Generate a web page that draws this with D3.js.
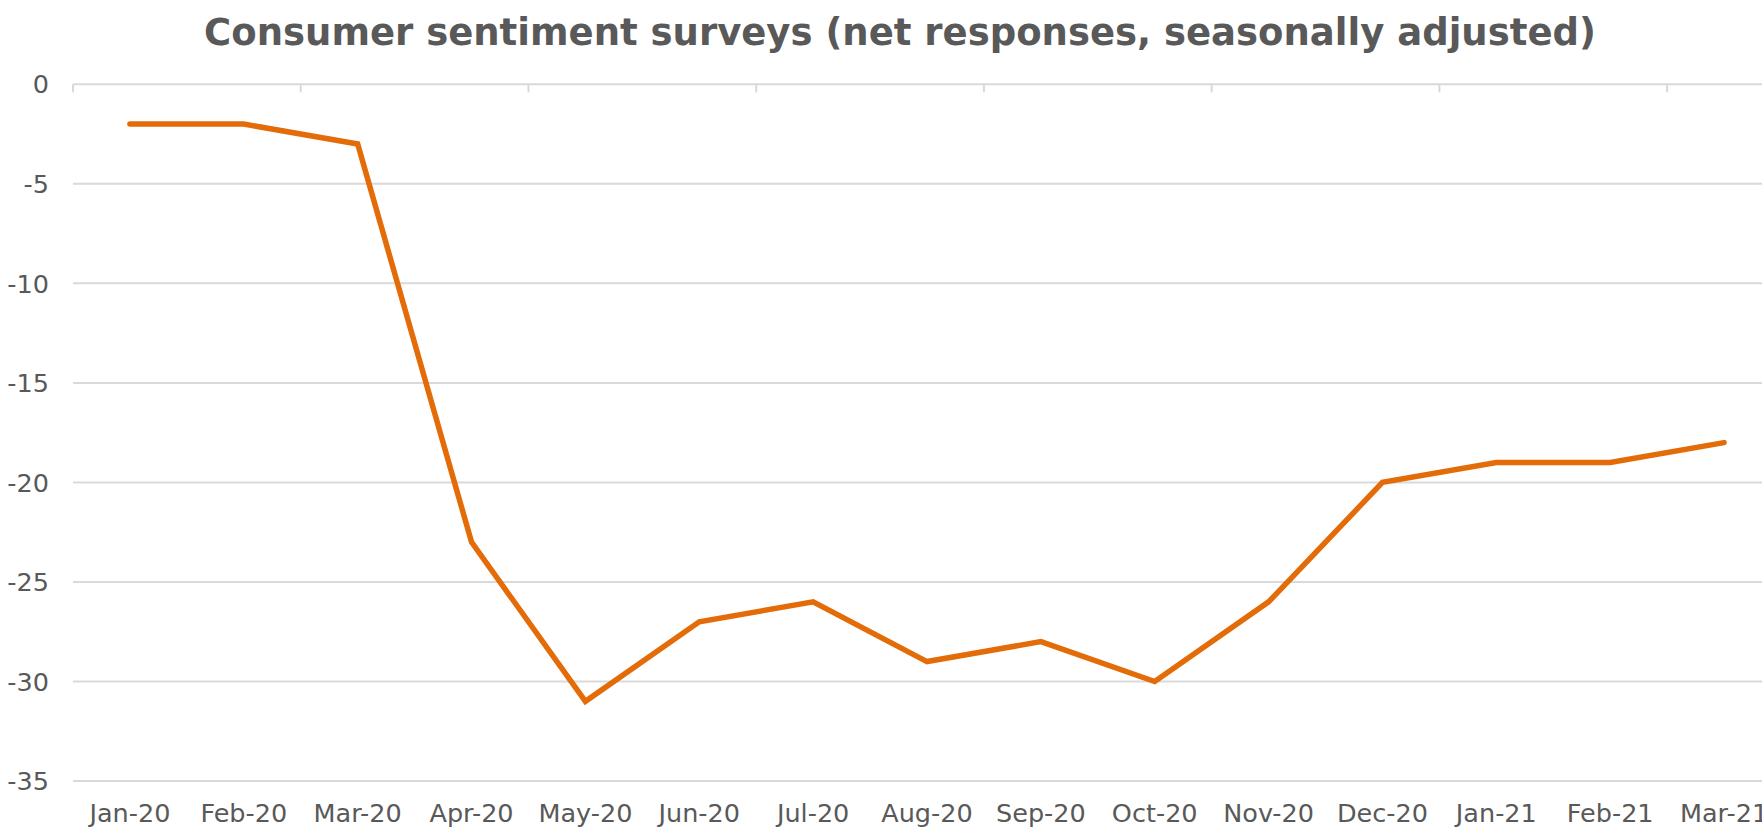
<!DOCTYPE html>
<html>
<head>
<meta charset="utf-8">
<script src="https://cdn.jsdelivr.net/npm/d3@7"></script>
<style>
  html, body { margin: 0; padding: 0; background: #fff; overflow: hidden; }
  svg { display: block; }
</style>
</head>
<body>
<svg id="chart" width="1762" height="827"></svg>
<script>
const categories = ["Jan-20","Feb-20","Mar-20","Apr-20","May-20","Jun-20","Jul-20","Aug-20","Sep-20","Oct-20","Nov-20","Dec-20","Jan-21","Feb-21","Mar-21"];
const values = [-2, -2, -3, -23, -31, -27, -26, -29, -28, -30, -26, -20, -19, -19, -18];
const yTicks = [0, -5, -10, -15, -20, -25, -30, -35];
const title = "Consumer sentiment surveys (net responses, seasonally adjusted)";

(function () {
const svg = d3.select("#chart");
const plotLeft = 73, plotRight = 1781, plotTop = 84.3, plotBottom = 781;
const font = "'DejaVu Sans', Verdana, sans-serif";
const textColor = "#595959";

const x = d3.scaleBand().domain(categories).range([plotLeft, plotRight]).padding(0);
const y = d3.scaleLinear().domain([-35, 0]).range([plotBottom, plotTop]);

// gridlines
svg.append("g").selectAll("line").data(yTicks).join("line")
  .attr("x1", plotLeft).attr("x2", plotRight)
  .attr("y1", d => y(d)).attr("y2", d => y(d))
  .attr("stroke", "#d9d9d9").attr("stroke-width", 2);

// y labels
svg.append("g").selectAll("text").data(yTicks).join("text")
  .attr("x", 49).attr("y", d => y(d)).attr("dy", "0.36em")
  .attr("text-anchor", "end")
  .attr("font-family", font).attr("font-size", 25.5).attr("fill", textColor)
  .text(d => d);

// x axis at y=0 with tick marks every 2 categories
const tickIdx = d3.range(0, categories.length + 1, 2);
svg.append("g").selectAll("line").data(tickIdx).join("line")
  .attr("x1", i => plotLeft + i * x.bandwidth()).attr("x2", i => plotLeft + i * x.bandwidth())
  .attr("y1", y(0)).attr("y2", y(0) + 8)
  .attr("stroke", "#d9d9d9").attr("stroke-width", 2);

// x labels
svg.append("g").selectAll("text").data(categories).join("text")
  .attr("x", d => x(d) + x.bandwidth() / 2).attr("y", 822)
  .attr("text-anchor", "middle")
  .attr("font-family", font).attr("font-size", 25.5).attr("fill", textColor)
  .text(d => d);

// line
const line = d3.line()
  .x((d, i) => x(categories[i]) + x.bandwidth() / 2)
  .y(d => y(d));
svg.append("path").datum(values)
  .attr("d", line)
  .attr("fill", "none").attr("stroke", "#E36C09").attr("stroke-width", 5.5)
  .attr("stroke-linejoin", "miter").attr("stroke-linecap", "round");

// title
svg.append("text")
  .attr("x", 900).attr("y", 45)
  .attr("text-anchor", "middle")
  .attr("font-family", font).attr("font-weight", "bold").attr("font-size", 37).attr("fill", textColor)
  .text(title);
})();
</script>
</body>
</html>
